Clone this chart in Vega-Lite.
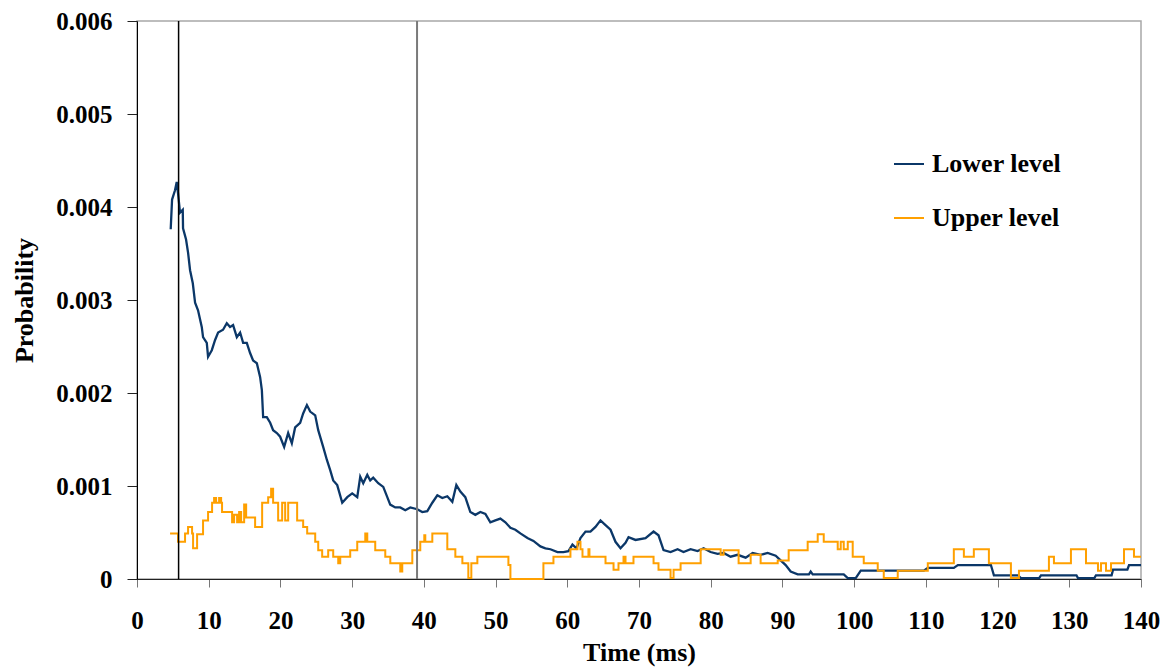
{
  "$schema": "https://vega.github.io/schema/vega-lite/v6.json",
  "width": 1004,
  "height": 558,
  "autosize": {"type": "none"},
  "padding": {"left": 137, "top": 21, "right": 22, "bottom": 88},
  "background": "white",
  "datasets": {
    "lower": [
      {"t":4.70,"p":0.00376},{"t":4.89,"p":0.00408},{"t":5.30,"p":0.00418},{"t":5.54,"p":0.00427},{"t":5.72,"p":0.00415},
      {"t":6.00,"p":0.00394},{"t":6.38,"p":0.00397},{"t":6.42,"p":0.00377},{"t":6.84,"p":0.00365},{"t":7.12,"p":0.00351},
      {"t":7.40,"p":0.00332},{"t":7.78,"p":0.00318},{"t":8.10,"p":0.00297},{"t":8.51,"p":0.00289},{"t":9.03,"p":0.00271},
      {"t":9.21,"p":0.00260},{"t":9.73,"p":0.00254},{"t":9.91,"p":0.00239},{"t":10.43,"p":0.00246},{"t":10.89,"p":0.00257},
      {"t":11.31,"p":0.00265},{"t":12.00,"p":0.00268},{"t":12.52,"p":0.00275},{"t":12.98,"p":0.00271},{"t":13.40,"p":0.00273},
      {"t":13.92,"p":0.00260},{"t":14.38,"p":0.00265},{"t":14.80,"p":0.00254},{"t":15.31,"p":0.00254},{"t":15.77,"p":0.00243},
      {"t":16.19,"p":0.00235},{"t":16.71,"p":0.00232},{"t":17.17,"p":0.00217},{"t":17.41,"p":0.00203},{"t":17.59,"p":0.00174},
      {"t":18.10,"p":0.00174},{"t":18.57,"p":0.00168},{"t":18.98,"p":0.00160},{"t":19.50,"p":0.00157},{"t":19.96,"p":0.00153},
      {"t":20.52,"p":0.00142},{"t":21.08,"p":0.00157},{"t":21.59,"p":0.00146},{"t":22.05,"p":0.00163},{"t":22.75,"p":0.00168},
      {"t":23.17,"p":0.00178},{"t":23.69,"p":0.00187},{"t":24.15,"p":0.00180},{"t":24.85,"p":0.00176},{"t":25.27,"p":0.00160},
      {"t":25.96,"p":0.00142},{"t":26.48,"p":0.00128},{"t":26.94,"p":0.00117},{"t":27.36,"p":0.00106},{"t":27.92,"p":0.00101},
      {"t":28.62,"p":0.00082},{"t":29.32,"p":0.00088},{"t":30.01,"p":0.00092},{"t":30.71,"p":0.00088},{"t":31.13,"p":0.00110},
      {"t":31.55,"p":0.00103},{"t":32.11,"p":0.00112},{"t":32.52,"p":0.00106},{"t":32.94,"p":0.00109},{"t":33.64,"p":0.00103},
      {"t":34.34,"p":0.00099},{"t":34.90,"p":0.00088},{"t":35.31,"p":0.00080},{"t":36.01,"p":0.00077},{"t":36.71,"p":0.00077},
      {"t":37.41,"p":0.00074},{"t":38.11,"p":0.00077},{"t":39.08,"p":0.00075},{"t":39.78,"p":0.00072},{"t":40.48,"p":0.00073},
      {"t":41.18,"p":0.00082},{"t":41.88,"p":0.00090},{"t":42.57,"p":0.00087},{"t":43.27,"p":0.00089},{"t":43.97,"p":0.00083},
      {"t":44.53,"p":0.00101},{"t":45.09,"p":0.00094},{"t":45.78,"p":0.00088},{"t":46.48,"p":0.00072},{"t":47.18,"p":0.00069},
      {"t":47.88,"p":0.00072},{"t":48.58,"p":0.00070},{"t":49.27,"p":0.00061},{"t":49.97,"p":0.00063},{"t":50.67,"p":0.00065},
      {"t":51.37,"p":0.00061},{"t":52.07,"p":0.00055},{"t":52.76,"p":0.00053},{"t":53.46,"p":0.00049},{"t":54.44,"p":0.00044},
      {"t":55.28,"p":0.00041},{"t":56.25,"p":0.00035},{"t":56.95,"p":0.00033},{"t":57.65,"p":0.00032},{"t":58.63,"p":0.00029},
      {"t":59.46,"p":0.00029},{"t":60.16,"p":0.00030},{"t":60.72,"p":0.00037},{"t":61.28,"p":0.00033},{"t":61.84,"p":0.00044},
      {"t":62.54,"p":0.00051},{"t":63.23,"p":0.00051},{"t":63.93,"p":0.00056},{"t":64.63,"p":0.00063},{"t":65.33,"p":0.00058},
      {"t":66.03,"p":0.00053},{"t":66.72,"p":0.00040},{"t":67.42,"p":0.00033},{"t":68.12,"p":0.00039},{"t":68.54,"p":0.00045},
      {"t":69.51,"p":0.00042},{"t":70.91,"p":0.00044},{"t":72.03,"p":0.00051},{"t":72.72,"p":0.00047},{"t":73.42,"p":0.00031},
      {"t":74.40,"p":0.00029},{"t":75.38,"p":0.00032},{"t":76.21,"p":0.00029},{"t":77.19,"p":0.00032},{"t":78.17,"p":0.00030},
      {"t":79.01,"p":0.00033},{"t":79.98,"p":0.00029},{"t":80.96,"p":0.00027},{"t":81.80,"p":0.00028},{"t":82.77,"p":0.00024},
      {"t":83.75,"p":0.00026},{"t":84.87,"p":0.00023},{"t":85.85,"p":0.00028},{"t":86.96,"p":0.00026},{"t":87.94,"p":0.00028},
      {"t":89.06,"p":0.00025},{"t":89.75,"p":0.00020},{"t":90.45,"p":0.00015},{"t":91.15,"p":0.00008},{"t":92.13,"p":0.00005},
      {"t":93.70,"p":0.00005},{"t":93.94,"p":0.00008},{"t":94.22,"p":0.00005},{"t":96.04,"p":0.00005},{"t":98.55,"p":0.00005},
      {"t":99.11,"p":0.00001},{"t":100.22,"p":0.00001},{"t":100.92,"p":0.00009},{"t":105.11,"p":0.00009},{"t":109.72,"p":0.00009},
      {"t":110.27,"p":0.00012},{"t":113.90,"p":0.00012},{"t":114.46,"p":0.00015},{"t":119.07,"p":0.00015},{"t":119.49,"p":0.00004},
      {"t":122.84,"p":0.00004},{"t":123.26,"p":0.00001},{"t":125.80,"p":0.00001},{"t":126.05,"p":0.00004},{"t":131.00,"p":0.00004},
      {"t":131.21,"p":0.00001},{"t":133.50,"p":0.00001},{"t":133.72,"p":0.00004},{"t":135.90,"p":0.00004},{"t":136.10,"p":0.00010},
      {"t":138.10,"p":0.00010},{"t":138.33,"p":0.00015},{"t":140.00,"p":0.00015}
    ],
    "upper": [
      {"t":4.61,"p":0.00049},{"t":5.72,"p":0.00040},{"t":6.70,"p":0.00049},{"t":7.12,"p":0.00056},{"t":7.68,"p":0.00049},
      {"t":7.82,"p":0.00033},{"t":8.38,"p":0.00048},{"t":9.21,"p":0.00063},{"t":9.91,"p":0.00072},{"t":10.47,"p":0.00082},
      {"t":10.75,"p":0.00087},{"t":11.03,"p":0.00082},{"t":11.45,"p":0.00087},{"t":11.73,"p":0.00082},{"t":11.86,"p":0.00072},
      {"t":13.26,"p":0.00061},{"t":13.54,"p":0.00069},{"t":13.96,"p":0.00061},{"t":14.24,"p":0.00072},{"t":14.52,"p":0.00061},
      {"t":14.94,"p":0.00080},{"t":15.22,"p":0.00066},{"t":16.47,"p":0.00056},{"t":17.45,"p":0.00082},{"t":18.29,"p":0.00088},
      {"t":18.70,"p":0.00097},{"t":18.98,"p":0.00082},{"t":19.68,"p":0.00063},{"t":20.24,"p":0.00082},{"t":20.66,"p":0.00063},
      {"t":21.08,"p":0.00082},{"t":22.33,"p":0.00063},{"t":23.17,"p":0.00056},{"t":23.73,"p":0.00049},{"t":24.85,"p":0.00040},
      {"t":25.27,"p":0.00031},{"t":25.82,"p":0.00024},{"t":26.66,"p":0.00031},{"t":27.36,"p":0.00024},{"t":28.06,"p":0.00017},
      {"t":28.34,"p":0.00024},{"t":29.73,"p":0.00031},{"t":30.71,"p":0.00040},{"t":31.83,"p":0.00049},{"t":32.11,"p":0.00040},
      {"t":33.22,"p":0.00031},{"t":34.62,"p":0.00024},{"t":35.32,"p":0.00017},{"t":36.71,"p":0.00008},{"t":36.99,"p":0.00017},
      {"t":38.39,"p":0.00031},{"t":39.50,"p":0.00040},{"t":40.06,"p":0.00047},{"t":40.20,"p":0.00040},{"t":41.18,"p":0.00049},
      {"t":43.27,"p":0.00032},{"t":44.39,"p":0.00024},{"t":45.37,"p":0.00017},{"t":46.20,"p":0.00001},{"t":46.62,"p":0.00017},
      {"t":47.46,"p":0.00024},{"t":51.79,"p":0.00015},{"t":52.07,"p":0.00000},{"t":56.67,"p":0.00017},{"t":58.07,"p":0.00024},
      {"t":60.44,"p":0.00032},{"t":61.42,"p":0.00040},{"t":61.84,"p":0.00032},{"t":62.12,"p":0.00024},{"t":62.95,"p":0.00032},
      {"t":63.09,"p":0.00024},{"t":65.33,"p":0.00017},{"t":66.45,"p":0.00010},{"t":67.14,"p":0.00017},{"t":67.84,"p":0.00024},
      {"t":68.12,"p":0.00017},{"t":69.23,"p":0.00024},{"t":72.03,"p":0.00017},{"t":72.72,"p":0.00010},{"t":74.40,"p":0.00001},
      {"t":74.82,"p":0.00010},{"t":75.80,"p":0.00017},{"t":78.60,"p":0.00032},{"t":81.39,"p":0.00026},{"t":81.80,"p":0.00031},
      {"t":83.89,"p":0.00017},{"t":85.57,"p":0.00026},{"t":86.96,"p":0.00017},{"t":89.34,"p":0.00020},{"t":90.87,"p":0.00031},
      {"t":93.52,"p":0.00040},{"t":94.92,"p":0.00048},{"t":95.76,"p":0.00040},{"t":97.71,"p":0.00032},{"t":98.13,"p":0.00040},
      {"t":98.55,"p":0.00032},{"t":99.11,"p":0.00040},{"t":99.80,"p":0.00024},{"t":101.34,"p":0.00017},{"t":103.29,"p":0.00009},
      {"t":104.13,"p":0.00001},{"t":106.08,"p":0.00009},{"t":110.27,"p":0.00017},{"t":113.90,"p":0.00032},{"t":115.30,"p":0.00024},
      {"t":116.69,"p":0.00032},{"t":118.79,"p":0.00017},{"t":121.86,"p":0.00001},{"t":122.98,"p":0.00009},{"t":127.16,"p":0.00024},
      {"t":127.86,"p":0.00017},{"t":130.23,"p":0.00032},{"t":132.33,"p":0.00017},{"t":134.00,"p":0.00009},{"t":134.42,"p":0.00017},
      {"t":135.12,"p":0.00009},{"t":135.82,"p":0.00017},{"t":137.63,"p":0.00032},{"t":139.02,"p":0.00024},{"t":140.00,"p":0.00024}
    ]
  },
  "layer": [
    {
      "data": {"name": "lower"},
      "mark": {"type": "line", "strokeWidth": 2.3, "interpolate": "linear"},
      "encoding": {
        "x": {
          "field": "t", "type": "quantitative",
          "scale": {"domain": [0, 140], "nice": false, "zero": false},
          "axis": {
            "title": "Time (ms)",
            "values": [0,10,20,30,40,50,60,70,80,90,100,110,120,130,140],
            "tickSize": 8, "tickColor": "#777777", "labelPadding": 21, "titlePadding": 6,
            "labelFlush": false, "labelOverlap": false, "domainColor": "#222222"
          }
        },
        "y": {
          "field": "p", "type": "quantitative",
          "scale": {"domain": [0, 0.006], "nice": false},
          "axis": {
            "title": "Probability",
            "values": [0, 0.001, 0.002, 0.003, 0.004, 0.005, 0.006],
            "labelExpr": "datum.value == 0 ? '0' : format(datum.value, '.3f')",
            "tickSize": 10, "tickColor": "#222222", "labelPadding": 15, "titlePadding": 18,
            "labelFlush": false, "labelOverlap": false, "domainColor": "#000000"
          }
        },
        "color": {
          "datum": "Lower level",
          "type": "nominal",
          "scale": {"domain": ["Lower level", "Upper level"], "range": ["#0b3768", "#ffa000"]},
          "legend": {
            "title": null, "orient": "none", "legendX": 756, "legendY": 127,
            "symbolType": "stroke", "symbolSize": 900, "symbolStrokeWidth": 2,
            "labelFont": "Liberation Serif", "labelFontWeight": "bold", "labelFontSize": 26,
            "labelColor": "#000000", "labelOffset": 7, "rowPadding": 25, "labelLimit": 400
          }
        }
      }
    },
    {
      "data": {"name": "upper"},
      "mark": {"type": "line", "strokeWidth": 2, "interpolate": "step-after"},
      "encoding": {
        "x": {"field": "t", "type": "quantitative"},
        "y": {"field": "p", "type": "quantitative"},
        "color": {"datum": "Upper level", "type": "nominal"}
      }
    },
    {
      "data": {"values": [{"t": 5.8}]},
      "mark": {"type": "rule", "color": "#000000", "strokeWidth": 1.5},
      "encoding": {"x": {"field": "t", "type": "quantitative"}}
    },
    {
      "data": {"values": [{"t": 39.05}]},
      "mark": {"type": "rule", "color": "#7a7a7a", "strokeWidth": 2},
      "encoding": {"x": {"field": "t", "type": "quantitative"}}
    }
  ],
  "config": {
    "view": {"stroke": "#a8a8a8", "strokeWidth": 1.5},
    "axis": {
      "grid": false,
      "labelFont": "Liberation Serif", "labelFontWeight": "bold", "labelFontSize": 25, "labelColor": "#000000",
      "titleFont": "Liberation Serif", "titleFontWeight": "bold", "titleFontSize": 26, "titleColor": "#000000"
    }
  }
}
